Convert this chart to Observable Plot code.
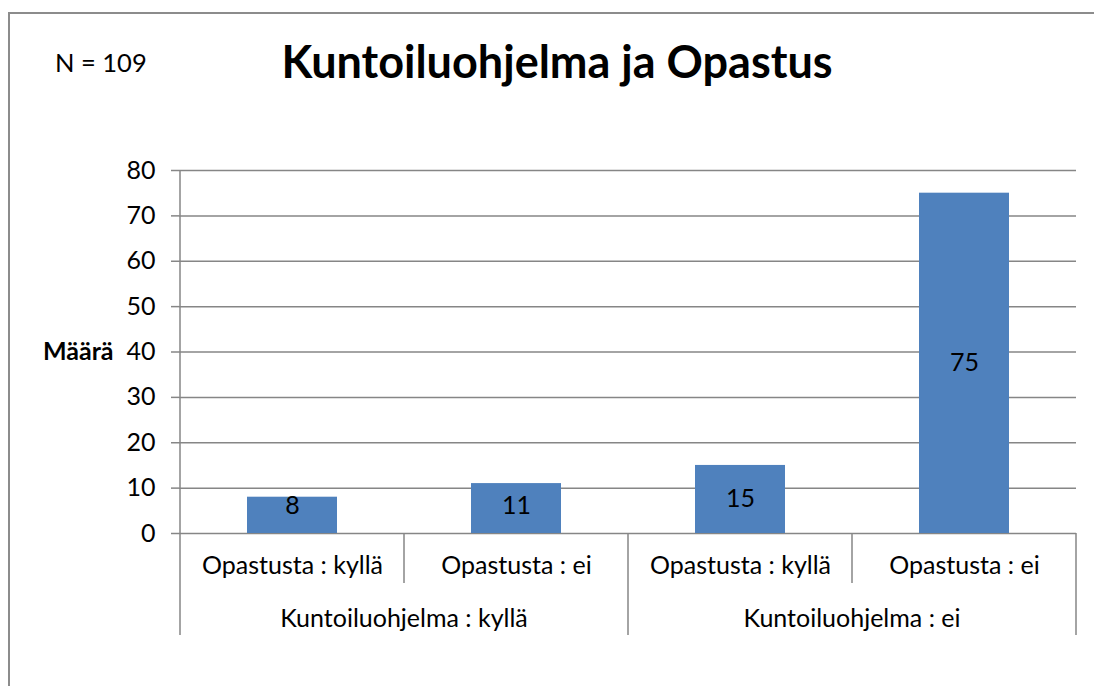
<!DOCTYPE html>
<html>
<head>
<meta charset="utf-8">
<script src="https://cdn.jsdelivr.net/npm/d3@7"></script>
<script src="https://cdn.jsdelivr.net/npm/@observablehq/plot@0.6"></script>
<style>
  html, body { margin: 0; padding: 0; background: #fff; }
  #wrap { position: relative; width: 1094px; height: 686px; overflow: hidden; font-family: Lato, "Open Sans", sans-serif; }
  #frame { position: absolute; left: 8px; top: 12px; width: 1200px; height: 800px; border-left: 2px solid #8c8c8c; border-top: 2px solid #8c8c8c; }
  #title { position: absolute; left: 557px; top: 39px; transform: translateX(-50%); font-size: 45px; font-weight: bold; line-height: 1; white-space: nowrap; color: #000; }
  #nlabel { position: absolute; left: 55px; top: 50px; font-size: 25.5px; line-height: 1; white-space: nowrap; color: #000; }
  #chart { position: absolute; left: 0; top: 0; }
</style>
</head>
<body>
<div id="wrap">
  <div id="frame"></div>
  <div id="chart"></div>
  <div id="nlabel">N = 109</div>
  <div id="title">Kuntoiluohjelma ja Opastus</div>
</div>
<script>
// ---- data ----
const groups = ["Kuntoiluohjelma : kyllä", "Kuntoiluohjelma : kyllä", "Kuntoiluohjelma : ei", "Kuntoiluohjelma : ei"];
const categories = ["Opastusta : kyllä", "Opastusta : ei", "Opastusta : kyllä", "Opastusta : ei"];
const values = [8, 11, 15, 75];
const yTicks = [0, 10, 20, 30, 40, 50, 60, 70, 80];
const yLabel = "Määrä";

const keys = categories.map((c, i) => groups[i] + " | " + c);
const table = values.map((v, i) => ({key: keys[i], group: groups[i], category: categories[i], value: v}));
const innerLabel = new Map(keys.map((k, i) => [k, categories[i]]));

const gridColor = "#868686";
const barColor = "#4F81BD";
const font = "Lato, 'Open Sans', sans-serif";
const fs = 25;

// hierarchical x-axis: separators and group labels
function hierarchy(index, scales, vals, dimensions) {
  const x = scales.x;
  const step = x.step(), bw = x.bandwidth();
  const half = (step - bw) / 2;
  const y0 = dimensions.height - dimensions.marginBottom;
  const top = dimensions.marginTop;
  const g = d3.create("svg:g").attr("stroke", gridColor).attr("stroke-width", 1.5);
  const start = x(keys[0]) - half;
  for (let i = 0; i <= keys.length; i++) {
    const px = start + i * step;
    const isGroup = i === 0 || i === keys.length || groups[i] !== groups[i - 1];
    g.append("line")
      .attr("x1", px).attr("x2", px)
      .attr("y1", i === 0 ? top : y0)
      .attr("y2", y0 + (isGroup ? 102 : 50));
  }
  const uniq = Array.from(new Set(groups));
  for (const grp of uniq) {
    const ks = keys.filter((k, i) => groups[i] === grp);
    const cx = d3.mean(ks, k => x(k) + bw / 2);
    g.append("text")
      .attr("x", cx).attr("y", y0 + 94)
      .attr("text-anchor", "middle")
      .attr("stroke", "none").attr("fill", "#000")
      .attr("font-size", fs).attr("font-family", font)
      .text(grp);
  }
  return g.node();
}

const chart = Plot.plot({
  width: 1094,
  height: 686,
  marginLeft: 179,
  marginRight: 18,
  marginTop: 170,
  marginBottom: 153,
  style: {fontFamily: font, background: "transparent", color: "#000"},
  x: {domain: keys, paddingInner: 0.6, paddingOuter: 0.3, axis: null},
  y: {domain: [0, 80], axis: null},
  marks: [
    Plot.gridY(yTicks, {stroke: gridColor, strokeOpacity: 1, strokeWidth: 1.5}),
    Plot.axisY({ticks: yTicks, tickSize: 8, tickPadding: 16, fontSize: fs, stroke: gridColor, strokeWidth: 1.5, fill: "#000", label: null}),
    Plot.barY(table, {x: "key", y: "value", fill: barColor}),
    Plot.text(table, {x: "key", y: d => Math.max(d.value / 2, 6), text: d => String(d.value), fontSize: fs, fill: "#000"}),
    Plot.axisX({tickSize: 0, tickPadding: 23, tickFormat: k => innerLabel.get(k), fontSize: fs, fill: "#000", label: null}),
    Plot.text([yLabel], {frameAnchor: "left", dx: -66, textAnchor: "end", fontSize: 25, fontWeight: "bold", fill: "#000"}),
    hierarchy
  ]
});
document.getElementById("chart").appendChild(chart);
</script>
</body>
</html>
